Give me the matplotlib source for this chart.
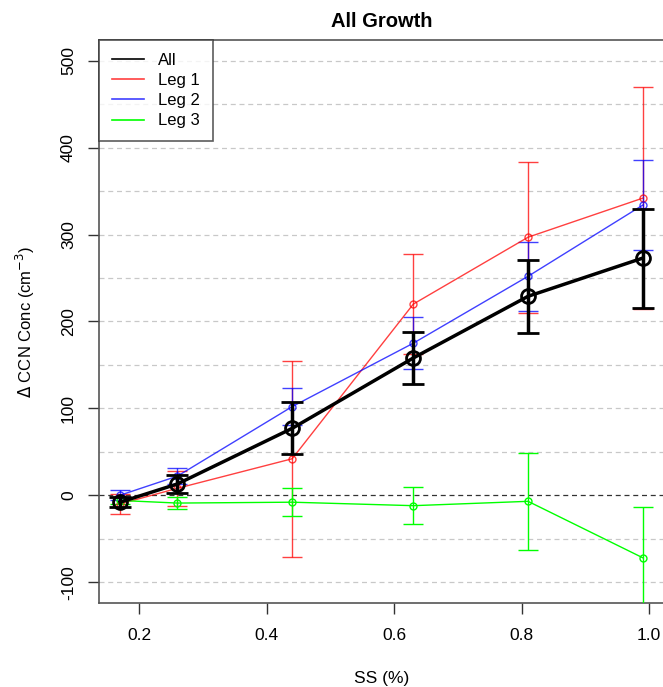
import matplotlib
matplotlib.use("Agg")
import matplotlib.pyplot as plt
import numpy as np

plt.rcParams['font.family'] = ['Liberation Sans', 'DejaVu Sans']

ss = [0.17, 0.26, 0.44, 0.63, 0.81, 0.99]

all_mean = [-8, 13, 77, 158, 229, 273]
all_err = [6, 10, 30, 30, 42, 57]

leg1_mean = [-10, 8, 42, 220, 297, 342]
leg1_err = [12, 20, 113, 58, 87, 128]

leg2_mean = [0, 22, 102, 175, 252, 334]
leg2_err = [6, 9, 21, 30, 40, 52]

leg3_mean = [-6, -9, -8, -12, -7, -72]
leg3_err = [4, 7, 16, 21, 56, 58]

series = [("Leg 1", leg1_mean, leg1_err, "#ff0000", 0.75),
          ("Leg 2", leg2_mean, leg2_err, "#0000ff", 0.75),
          ("Leg 3", leg3_mean, leg3_err, "#00ff00", 1.0)]

fig = plt.figure(figsize=(6.63, 6.87), dpi=100)
ax = fig.add_axes([0.1493, 0.1223, 0.852, 0.8195])

# grid every 50, zero line darker
for y in np.arange(-100, 501, 50):
    if y == 0:
        ax.axhline(0, color="#333333", lw=0.9, ls=(0, (4, 3)), zorder=1)
    else:
        ax.axhline(y, color="#c8c8c8", lw=0.9, ls=(0, (4, 3)), zorder=1)

handles = []
for name, m, e, c, a in series:
    ax.errorbar(ss, m, yerr=e, color=c, alpha=a, lw=1, marker="o", ms=5,
                mfc="none", mew=1, capsize=7, capthick=1, elinewidth=1, zorder=3)
    handles.append(plt.Line2D([], [], color=c, alpha=a, lw=1.2, label=name))

ax.errorbar(ss, all_mean, yerr=all_err, color="black", lw=2.5, marker="o", ms=10,
            mfc="none", mew=2, capsize=8, capthick=2.5, elinewidth=2.5, zorder=4)
handles.insert(0, plt.Line2D([], [], color="black", lw=1.2, label="All"))

ax.set_xlim(0.137, 1.023)
ax.set_ylim(-124, 524)
ax.set_xticks([0.2, 0.4, 0.6, 0.8, 1.0])
ax.set_xticklabels(["0.2", "0.4", "0.6", "0.8", "1.0"])
ax.set_yticks([-100, 0, 100, 200, 300, 400, 500])
ax.set_yticklabels(["-100", "0", "100", "200", "300", "400", "500"],
                   rotation=90, va="center")
ax.tick_params(direction="out", length=8, width=1, color="#333333",
               labelsize=12.5)
ax.tick_params(axis="x", pad=10)
ax.tick_params(axis="y", pad=8.5)
for s in ax.spines.values():
    s.set_color("#555555")
    s.set_linewidth(1.2)

ax.set_xlabel("SS (%)", fontsize=12.5, labelpad=20)
ax.set_ylabel(r"$\Delta$ CCN Conc (cm$^{-3}$)", fontsize=12, labelpad=17)
ax.set_title("All Growth", fontsize=14.5, fontweight="bold", pad=9.5)

leg = ax.legend(handles=handles, loc="upper left", fontsize=12, frameon=True,
                fancybox=False, edgecolor="#333333", borderaxespad=0,
                handlelength=1.9, handletextpad=0.85, labelspacing=0.31,
                borderpad=0.78)
leg.get_frame().set_linewidth(1.2)

fig.savefig("out.png", dpi=100)
